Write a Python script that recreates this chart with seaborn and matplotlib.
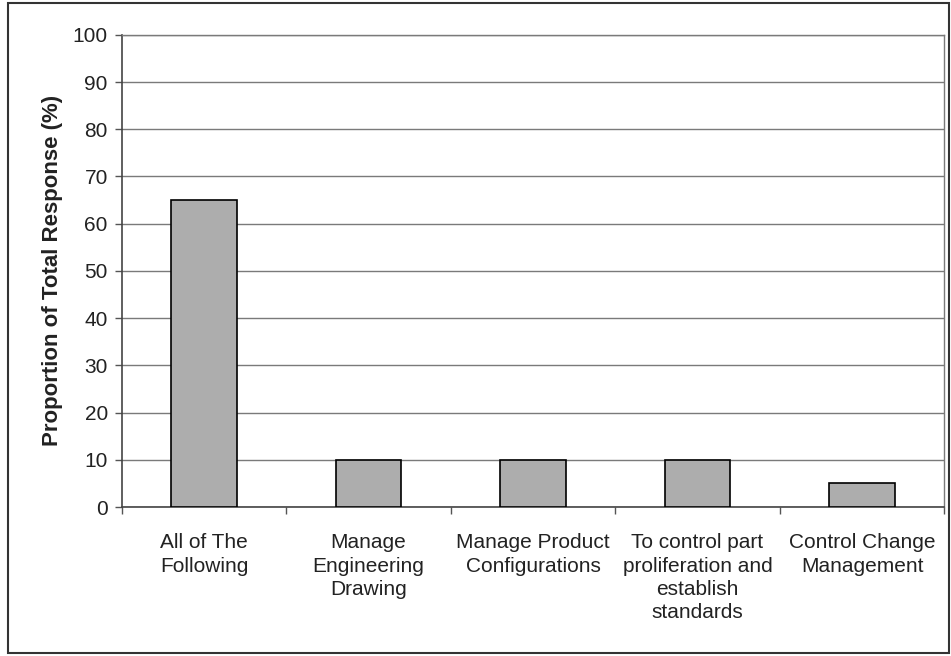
import matplotlib
matplotlib.use("Agg")
import matplotlib.pyplot as plt
import matplotlib.patches as patches
import seaborn as sns
import numpy as np

# Chart data
categories = [
    "All of The\nFollowing",
    "Manage\nEngineering\nDrawing",
    "Manage Product\nConfigurations",
    "To control part\nproliferation and\nestablish\nstandards",
    "Control Change\nManagement",
]
proportions = [65, 10, 10, 10, 5]
y_ticks = list(range(0, 101, 10))

sns.set_theme(style="white")
plt.rcParams["font.family"] = ["Liberation Sans", "DejaVu Sans"]

fig = plt.figure(figsize=(9.51, 6.56), dpi=100)
ax = fig.add_axes([0.128, 0.227, 0.865, 0.72])

sns.barplot(x=categories, y=proportions, color="#adadad", edgecolor="black",
            linewidth=1.2, width=0.4, saturation=1, ax=ax, zorder=3)

ax.set_ylim(0, 100)
ax.set_xlim(-0.5, len(categories) - 0.5)
ax.set_yticks(y_ticks)
ax.yaxis.grid(True, color="#7a7a7a", linewidth=1.0, zorder=0)
ax.set_axisbelow(True)

# ticks at category boundaries on x axis
ax.set_xticks(np.arange(len(categories)))
ax.set_xticks(np.arange(-0.5, len(categories), 1.0), minor=True)
ax.tick_params(axis="x", which="major", length=0, pad=19, labelsize=15,
               colors="#222222")
ax.tick_params(axis="x", which="minor", length=5, width=1, color="#555555",
               direction="out", bottom=True)
ax.tick_params(axis="y", length=5, width=1, color="#555555", direction="out",
               left=True, labelsize=15, colors="#222222", pad=5)
for lbl in ax.get_xticklabels():
    lbl.set_linespacing(1.27)
    lbl.set_va("top")

for side in ["left", "bottom"]:
    ax.spines[side].set_color("#444444")
    ax.spines[side].set_linewidth(1.2)
ax.spines["top"].set_color("#7a7a7a")
ax.spines["right"].set_color("#7a7a7a")
ax.spines["top"].set_linewidth(1.0)
ax.spines["right"].set_linewidth(1.0)

ax.set_ylabel("Proportion of Total Response (%)", fontsize=16,
              fontweight="bold", color="#222222", labelpad=7)
ax.set_xlabel("")

# outer chart frame
fig.patches.append(patches.Rectangle((0.008, 0.005), 0.99, 0.99,
                                     transform=fig.transFigure, fill=False,
                                     edgecolor="#333333", linewidth=1.5))

fig.savefig("out.png", dpi=100)
